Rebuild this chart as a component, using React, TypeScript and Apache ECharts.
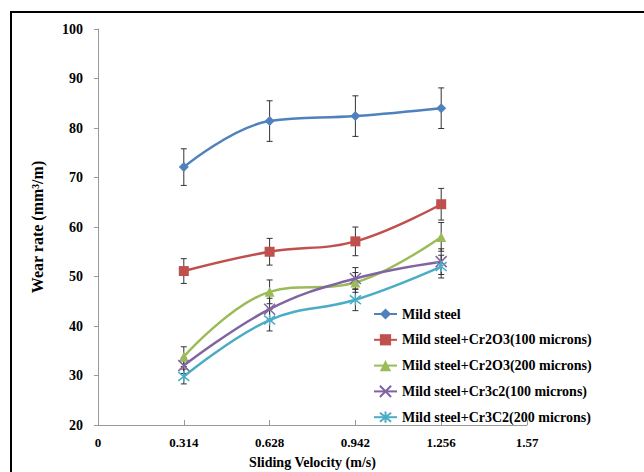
import React, { useEffect, useRef } from "react";
import * as echarts from "echarts";

const xValues = [0.314, 0.628, 0.942, 1.256];
const xTickLabels = ["0", "0.314", "0.628", "0.942", "1.256", "1.57"];

const seriesNames = [
  "Mild steel",
  "Mild steel+Cr2O3(100 microns)",
  "Mild steel+Cr2O3(200 microns)",
  "Mild steel+Cr3c2(100 microns)",
  "Mild steel+Cr3C2(200 microns)",
];

const mildSteel = [72.1, 81.4, 82.4, 84.0];
const mildSteelErr = [3.7, 4.1, 4.1, 4.1];
const cr2o3_100 = [51.1, 55.0, 57.1, 64.6];
const cr2o3_100Err = [2.5, 2.7, 2.9, 3.2];
const cr2o3_200 = [33.8, 46.9, 48.8, 58.0];
const cr2o3_200Err = [2.0, 2.4, 2.0, 2.9];
const cr3c2_100 = [32.0, 43.4, 49.6, 53.0];
const cr3c2_100Err = [1.6, 2.2, 2.2, 2.6];
const cr3c2_200 = [29.8, 41.2, 45.3, 52.0];
const cr3c2_200Err = [1.5, 2.2, 2.2, 2.3];

const values = [mildSteel, cr2o3_100, cr2o3_200, cr3c2_100, cr3c2_200];
const errors = [mildSteelErr, cr2o3_100Err, cr2o3_200Err, cr3c2_100Err, cr3c2_200Err];
const colors = ["#4F81BD", "#C0504D", "#9BBB59", "#8064A2", "#4BACC6"];
const symbols = [
  "diamond",
  "rect",
  "triangle",
  "path://M-5,-5L5,5M-5,5L5,-5",
  "path://M0,-5L0,5M-5,-4L5,4M-5,4L5,-4",
];
const symbolSizes = [10, 10, 10, 11, 11];

const FONT = "'Liberation Serif', 'DejaVu Serif', serif";

export default function App() {
  const ref = useRef<HTMLDivElement>(null);
  useEffect(() => {
    if (!ref.current) return;
    const chart = echarts.init(ref.current, null, { renderer: "svg" });

    const lineSeries = seriesNames.map((name, i) => ({
      name,
      type: "line",
      smooth: 0.4,
      data: xValues.map((x, j) => [x, values[i][j]]),
      symbol: symbols[i],
      symbolSize: symbolSizes[i],
      lineStyle: { color: colors[i], width: 2.5 },
      itemStyle: {
        color: colors[i],
        borderColor: colors[i],
        borderWidth: i >= 3 ? 1.5 : 0,
      },
      z: 3,
    }));

    const errSeries = seriesNames.map((name, i) => ({
      name: name + " err",
      type: "custom",
      data: xValues.map((x, j) => [x, values[i][j] - errors[i][j], values[i][j] + errors[i][j]]),
      renderItem: (params: any, api: any) => {
        const lo = api.coord([api.value(0), api.value(1)]);
        const hi = api.coord([api.value(0), api.value(2)]);
        const style = { stroke: "#333", lineWidth: 1 };
        const w = 3;
        return {
          type: "group",
          children: [
            { type: "line", shape: { x1: lo[0], y1: lo[1], x2: hi[0], y2: hi[1] }, style },
            { type: "line", shape: { x1: lo[0] - w, y1: lo[1], x2: lo[0] + w, y2: lo[1] }, style },
            { type: "line", shape: { x1: hi[0] - w, y1: hi[1], x2: hi[0] + w, y2: hi[1] }, style },
          ],
        };
      },
      z: 2,
      silent: true,
    }));

    chart.setOption({
      animation: false,
      backgroundColor: "#fff",
      graphic: [
        {
          type: "polyline",
          shape: { points: [[11, 700], [11, 12], [900, 12]] },
          style: { fill: "none", stroke: "#000", lineWidth: 2 },
          z: 10,
        },
      ],
      grid: {
        left: 98,
        top: 29,
        width: 429,
        height: 396,
        containLabel: false,
        outerBoundsMode: "none",
      },
      legend: {
        data: seriesNames,
        orient: "vertical",
        left: 373,
        top: 307,
        padding: 0,
        itemWidth: 23,
        itemHeight: 14,
        itemGap: 11.8,
        textStyle: {
          fontFamily: FONT,
          fontWeight: "bold",
          fontSize: 14,
          lineHeight: 14,
          color: "#000",
        },
      },
      xAxis: {
        type: "value",
        min: 0,
        max: 1.57,
        interval: 0.314,
        name: "Sliding Velocity (m/s)",
        nameLocation: "middle",
        nameGap: 30,
        nameTextStyle: { fontFamily: FONT, fontWeight: "bold", fontSize: 14, color: "#000" },
        axisLine: { lineStyle: { color: "#999" } },
        axisTick: { inside: true, length: 5, lineStyle: { color: "#999" } },
        splitLine: { show: false },
        axisLabel: {
          margin: 11,
          fontFamily: FONT,
          fontWeight: "bold",
          fontSize: 13,
          color: "#000",
          formatter: (v: number) => {
            const idx = Math.round(v / 0.314);
            return xTickLabels[idx] ?? String(v);
          },
        },
      },
      yAxis: {
        type: "value",
        min: 20,
        max: 100,
        interval: 10,
        name: "Wear rate (mm³/m)",
        nameLocation: "middle",
        nameGap: 53,
        nameRotate: 90,
        nameTextStyle: { fontFamily: FONT, fontWeight: "bold", fontSize: 16, color: "#000" },
        axisLine: { show: true, lineStyle: { color: "#999" } },
        axisTick: { show: true, length: 4, lineStyle: { color: "#999" } },
        splitLine: { show: false },
        axisLabel: {
          margin: 15,
          fontFamily: FONT,
          fontWeight: "bold",
          fontSize: 14,
          color: "#000",
        },
      },
      series: [...errSeries, ...lineSeries],
    });
    return () => chart.dispose();
  }, []);
  return (
    <div
      ref={ref}
      style={{ position: "fixed", left: 0, top: 0, width: 644, height: 472 }}
    />
  );
}
